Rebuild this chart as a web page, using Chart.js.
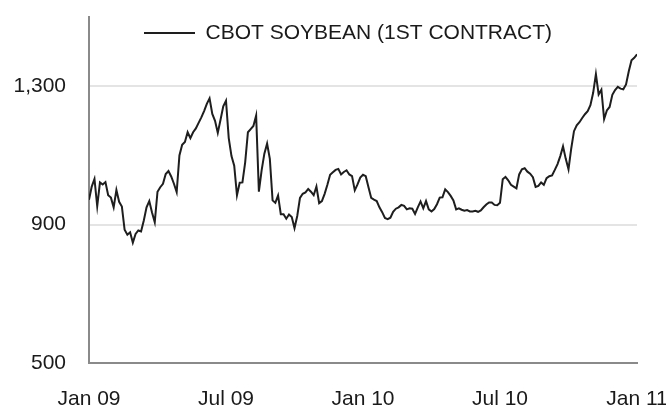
<!DOCTYPE html>
<html>
<head>
<meta charset="utf-8">
<script src="https://cdn.jsdelivr.net/npm/chart.js@4.4.1/dist/chart.umd.min.js"></script>
<style>
  html, body { margin: 0; padding: 0; background: #fff; }
  #wrap { width: 666px; height: 418px; position: relative; }
</style>
</head>
<body>
<div id="wrap"><canvas id="grafico"></canvas></div>
<script>
// === Datos ===
var serieNombre = 'CBOT SOYBEAN (1ST CONTRACT)';

// etiquetas del eje X (cada 6 meses) y posiciones en meses
var xTickLabels = ['Jan 09', 'Jul 09', 'Jan 10', 'Jul 10', 'Jan 11'];
var xTickMonths = [0, 6, 12, 18, 24];

// ticks del eje Y
var yTickValues = [500, 900, 1300];
var yMin = 500;
var yMax = 1500;

// precio (c/bu), una lectura cada ~3.65 dias, ene 2009 -> ene 2011
var precios = [
  972, 1010, 1032, 953, 1022, 1016, 1023, 985, 978, 950,
  1000, 966, 952, 885, 871, 878, 848, 873, 883, 880,
  912, 950, 968, 935, 907, 995, 1008, 1018, 1046, 1055,
  1039, 1018, 994, 1100, 1131, 1139, 1167, 1150, 1167, 1178,
  1194, 1210, 1228, 1249, 1265, 1220, 1200, 1165, 1203, 1242,
  1258, 1150, 1098, 1070, 985, 1021, 1022, 1080, 1167, 1176,
  1185, 1215, 995, 1057, 1105, 1134, 1090, 970, 963, 984,
  930, 930, 917, 929, 922, 890, 925, 977, 989, 993,
  1003, 995, 985, 1010, 962, 968, 989, 1015, 1044, 1051,
  1058, 1061, 1045, 1052, 1057, 1045, 1040, 999, 1016, 1036,
  1044, 1040, 1008, 977, 972, 968, 950, 936, 919, 916,
  920, 937, 946, 950, 957, 954, 944, 947, 946, 931,
  950, 967, 947, 968, 944, 938, 945, 959, 978, 979,
  1002, 994, 983, 970, 944, 947, 943, 940, 942, 938,
  938, 940, 937, 941, 950, 958, 964, 964, 957, 956,
  963, 1031, 1038, 1028, 1015, 1010, 1005, 1045, 1060, 1063,
  1053, 1047, 1037, 1009, 1012, 1022, 1015, 1034, 1040, 1042,
  1058, 1075, 1098, 1126, 1090, 1060, 1120, 1170, 1187, 1196,
  1208, 1219, 1228, 1245, 1281, 1335, 1276, 1290, 1205, 1230,
  1240, 1275, 1289, 1298, 1293, 1291, 1305, 1343, 1375, 1382,
  1392
];

// === Colores ===
var C_LINEA = '#1e1e1e';
var C_TEXTO = '#1a1a1a';
var C_EJE = '#8a8a8a';
var C_GRID = '#e4e4e4';
var FUENTE = { family: '"Liberation Sans", Arial, sans-serif', size: 21 };

var paso = 24 / (precios.length - 1);
var puntos = precios.map(function (v, i) { return { x: i * paso, y: v }; });

// la leyenda va dentro del area del grafico, corrida hacia la derecha
var moverLeyenda = {
  id: 'moverLeyenda',
  afterLayout: function (chart) {
    var l = chart.legend;
    var a = chart.chartArea;
    if (!l || !a) return;
    var w = l.right - l.left;
    var h = l.bottom - l.top;
    l.left = a.left + 49.5;
    l.right = l.left + w;
    l.top = a.top;
    l.bottom = l.top + h;
  }
};

var config = {
  type: 'line',
  data: {
    datasets: [{
      label: serieNombre,
      data: puntos,
      borderColor: C_LINEA,
      backgroundColor: C_LINEA,
      borderWidth: 2,
      pointRadius: 0,
      tension: 0,
      fill: false
    }]
  },
  options: {
    responsive: true,
    maintainAspectRatio: false,
    animation: false,
    layout: { padding: { top: 17, right: 29, bottom: 0, left: 0 } },
    scales: {
      x: {
        type: 'linear',
        min: xTickMonths[0],
        max: xTickMonths[xTickMonths.length - 1],
        afterBuildTicks: function (axis) {
          axis.ticks = xTickMonths.map(function (m) { return { value: m }; });
        },
        afterFit: function (axis) {
          axis.height = 55;
          axis.paddingLeft = 0;
          axis.paddingRight = 0;
        },
        grid: { display: false, drawTicks: false },
        border: { color: C_EJE, width: 2 },
        ticks: {
          color: C_TEXTO,
          font: FUENTE,
          padding: 24,
          maxRotation: 0,
          autoSkip: false,
          callback: function (value, index) { return xTickLabels[index]; }
        }
      },
      y: {
        min: yMin,
        max: yMax,
        afterBuildTicks: function (axis) {
          axis.ticks = yTickValues.map(function (v) { return { value: v }; });
        },
        afterFit: function (axis) {
          axis.width = 89;
          axis.paddingTop = 0;
          axis.paddingBottom = 0;
        },
        grid: {
          drawTicks: false,
          lineWidth: 2,
          color: function (ctx) {
            return ctx.tick && ctx.tick.value === yMin ? 'rgba(0,0,0,0)' : C_GRID;
          }
        },
        border: { color: C_EJE, width: 2 },
        ticks: {
          color: C_TEXTO,
          font: FUENTE,
          padding: 23,
          callback: function (value) { return value.toLocaleString('en-US'); }
        }
      }
    },
    plugins: {
      legend: {
        position: 'chartArea',
        align: 'start',
        labels: {
          color: C_TEXTO,
          font: FUENTE,
          boxWidth: 51,
          boxHeight: 2,
          padding: 5.5,
          generateLabels: function (chart) {
            return [{
              text: serieNombre,
              fillStyle: C_LINEA,
              strokeStyle: C_LINEA,
              lineWidth: 0,
              fontColor: C_TEXTO,
              datasetIndex: 0
            }];
          }
        }
      },
      tooltip: { enabled: false }
    }
  },
  plugins: [moverLeyenda]
};

var canvas = document.getElementById('grafico');
if (!canvas || typeof Chart === 'undefined') {
  console.error('No se encontró el canvas o Chart.js no está cargado.');
} else {
  new Chart(canvas, config);
}
</script>
</body>
</html>
